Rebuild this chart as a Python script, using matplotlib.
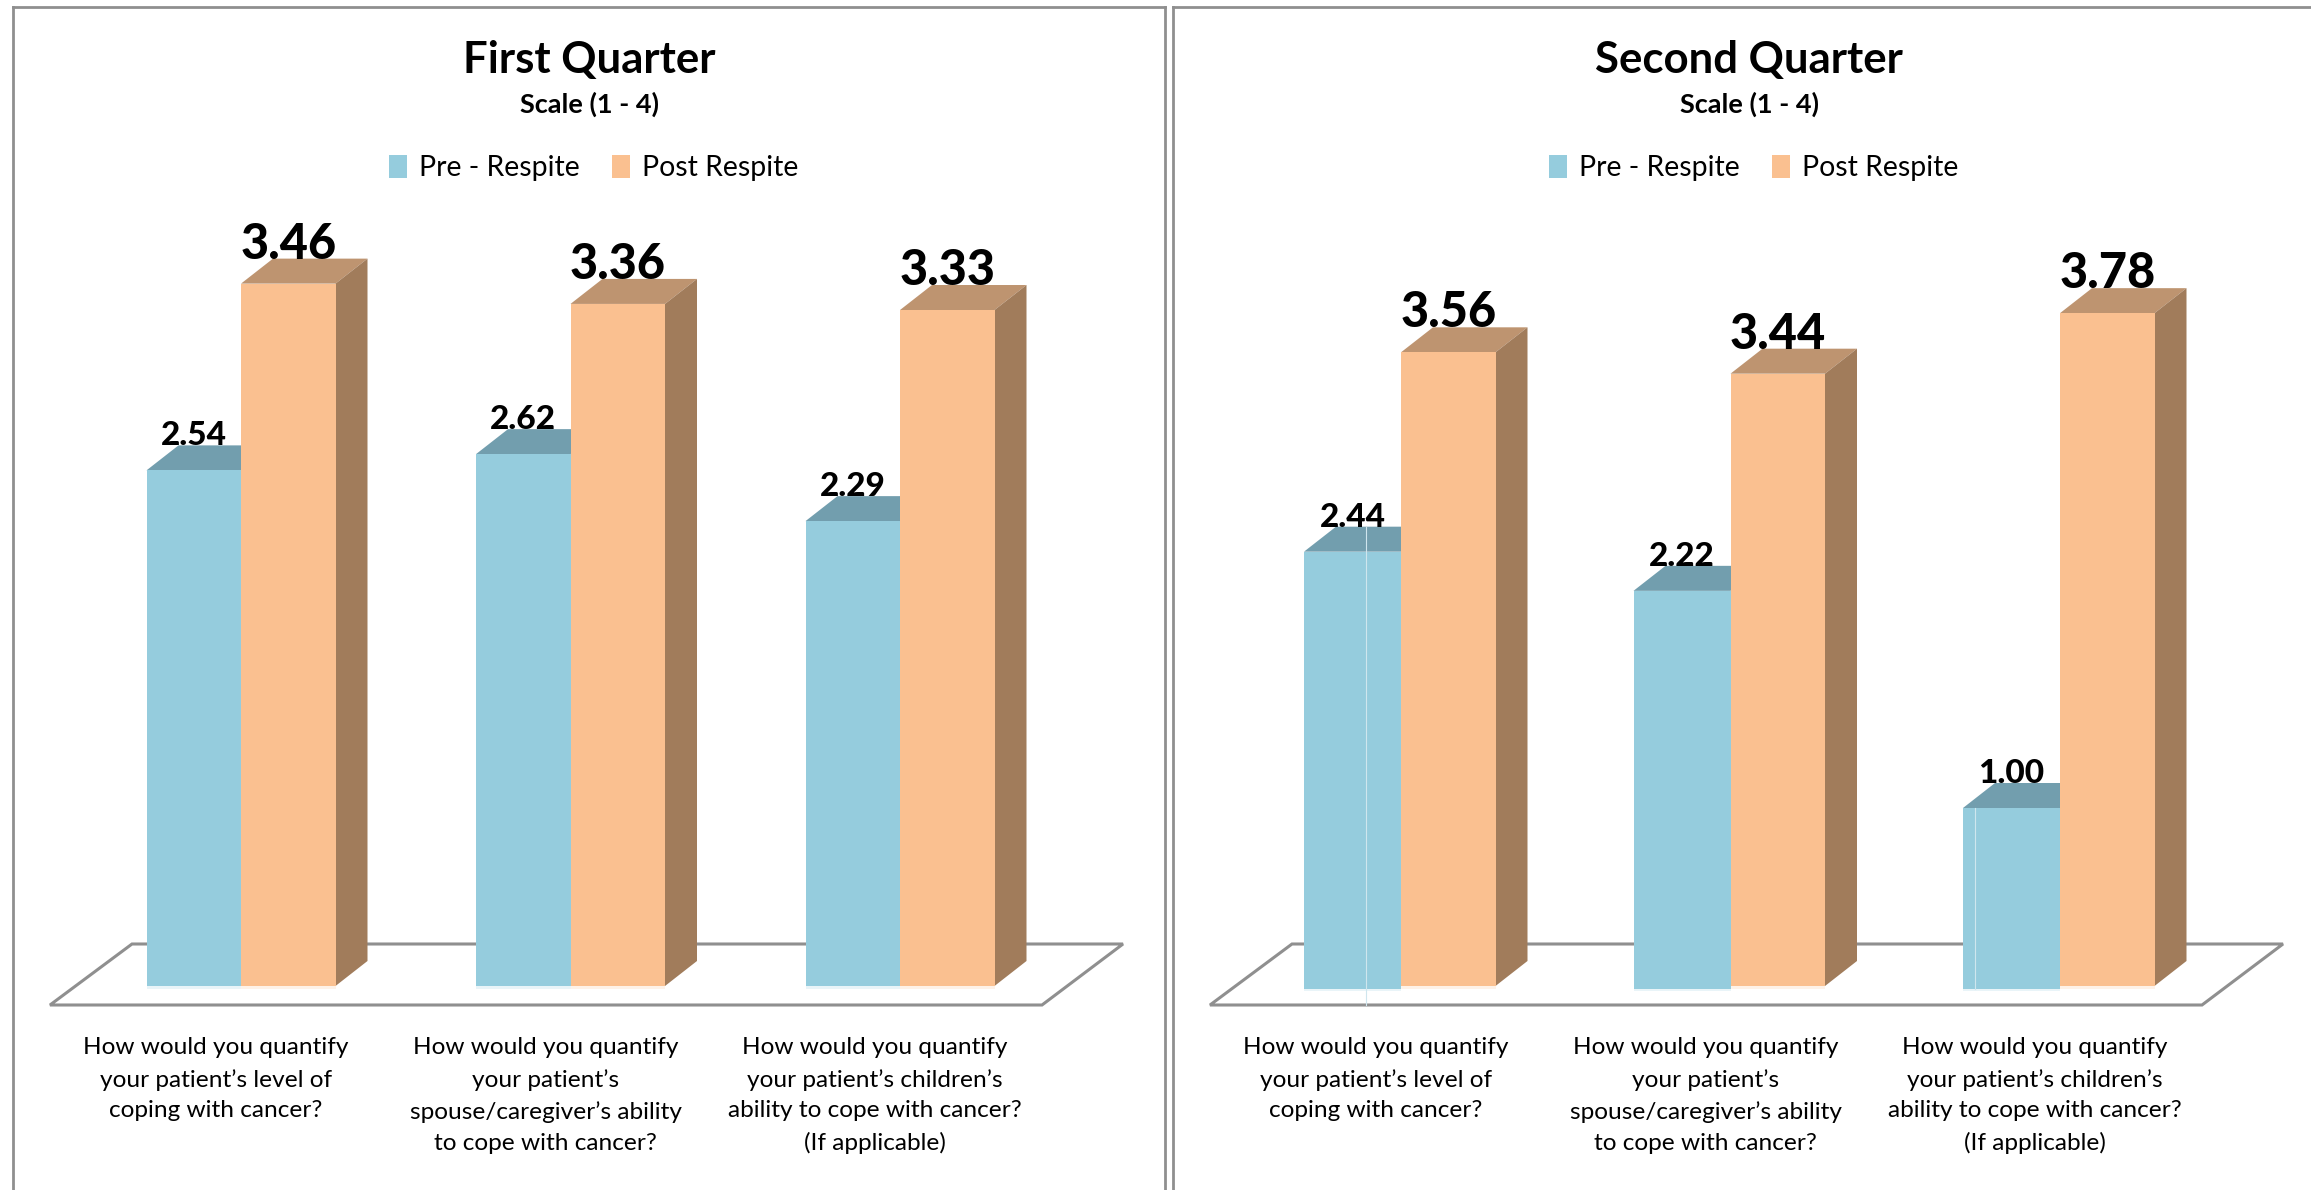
import matplotlib
matplotlib.use("Agg")
import matplotlib.pyplot as plt
from matplotlib.lines import Line2D
from matplotlib.patches import Patch, Polygon

W, H = 2311, 1190
plt.rcParams["font.family"] = ["Lato", "DejaVu Sans"]

series_names = ["Pre - Respite", "Post Respite"]
questions = [
    "How would you quantify\nyour patient\u2019s level of\ncoping with cancer?",
    "How would you quantify\nyour patient\u2019s\nspouse/caregiver\u2019s ability\nto cope with cancer?",
    "How would you quantify\nyour patient\u2019s children\u2019s\nability to cope with cancer?\n(If applicable)",
]
titles = ["First Quarter", "Second Quarter"]
subtitle = "Scale (1 - 4)"
pre_q1 = [2.54, 2.62, 2.29]
post_q1 = [3.46, 3.36, 3.33]
pre_q2 = [2.44, 2.22, 1.00]
post_q2 = [3.56, 3.44, 3.78]

BLUE, BLUE_TOP = "#95ccdd", "#729eae"
ORANGE, ORANGE_TOP, ORANGE_SIDE = "#fac090", "#be9470", "#a17c5b"
GREY = "#8f8f8f"

BASE = 986       # pixel row of value 0
SPACING = 329.5  # pixels between groups
BAR = 94.5
DX, DY = 32, 25  # depth of the 3d look, pixels


def fx(x):
    return x / W


def fy(y):
    return 1 - y / H


fig = plt.figure(figsize=(W / 100, H / 100), dpi=100, facecolor="white")


def draw_panel(left, right, x0, px_per_unit, pre, post, title, pre_w, pre_drop, seams):
    ymax = 4
    ax = fig.add_axes([fx(left), fy(BASE), (right - left) / W, ymax * px_per_unit / H])
    ax.set_xlim((left - x0) / SPACING, (right - x0) / SPACING)
    ax.set_ylim(0, ymax)
    ax.patch.set_alpha(0)
    for s in ax.spines.values():
        s.set_visible(False)
    ax.set_yticks([])

    # floor
    off = x0 - 241
    floor = [(50 + off, 1005), (132 + off, 944), (1123 + off, 944), (1042 + off, 1005)]
    ax.add_patch(Polygon([(fx(a), fy(b)) for a, b in floor], closed=True, fill=False,
                         edgecolor=GREY, lw=2.2, transform=fig.transFigure,
                         clip_on=False, zorder=1))

    w = BAR / SPACING
    dx, dy = DX / SPACING, DY / px_per_unit
    drop = pre_drop / px_per_unit
    halo = 2.5 / px_per_unit
    for i in range(len(pre)):
        pw = pre_w / SPACING
        # blue bar
        ax.bar(i - pw / 2, pre[i] + drop, pw, bottom=-drop, color=BLUE, zorder=3, clip_on=False)
        ax.bar(i - pw / 2, halo, pw, bottom=-drop - halo, color=BLUE, alpha=0.2, zorder=2, clip_on=False)
        ax.add_patch(Polygon([(i - pw, pre[i]), (i, pre[i]), (i + dx, pre[i] + dy), (i - pw + dx, pre[i] + dy)],
                             color=BLUE_TOP, lw=0, zorder=2.5))
        # orange bar
        ax.bar(i + w / 2, post[i], w, color=ORANGE, zorder=5, clip_on=False)
        ax.bar(i + w / 2, halo, w, bottom=-halo, color=ORANGE, alpha=0.2, zorder=2, clip_on=False)
        ax.add_patch(Polygon([(i, post[i]), (i + w, post[i]), (i + w + dx, post[i] + dy), (i + dx, post[i] + dy)],
                             color=ORANGE_TOP, lw=0, zorder=4.5))
        ax.add_patch(Polygon([(i + w, 0), (i + w + dx, dy), (i + w + dx, post[i] + dy), (i + w, post[i])],
                             color=ORANGE_SIDE, lw=0, zorder=4.5))
        # value labels
        ax.text(i - pw / 2, pre[i] + dy, f"{pre[i]:.2f}", ha="center", va="baseline",
                fontsize=24, fontweight="black", color="black", zorder=8)
        ax.text(i + w / 2, post[i] + dy, f"{post[i]:.2f}", ha="center", va="baseline",
                fontsize=35, fontweight="black", color="black", zorder=8)

    # thin light seams inside some blue bars
    for i, pos, bottom, top in seams:
        ax.plot([i - pos / SPACING] * 2, [bottom / px_per_unit, top], color="#cfe6ee", lw=0.8,
                zorder=3.5, clip_on=False)

    shift = 25 / SPACING
    ax.set_xticks([i - shift for i in range(len(questions))])
    ax.set_xticklabels(questions, fontsize=17.6, linespacing=1.58, color="black")
    ax.tick_params(axis="x", length=0, pad=37)

    cx = x0 + 348
    fig.text(fx(cx), fy(60), title, ha="center", va="center", fontsize=31.5, fontweight="bold")
    fig.text(fx(cx), fy(104), subtitle, ha="center", va="center", fontsize=19.5, fontweight="bold")

    handles = [Patch(facecolor=BLUE, label=series_names[0]), Patch(facecolor=ORANGE, label=series_names[1])]
    ax.legend(handles=handles, ncol=2, loc="center", bbox_to_anchor=(fx(x0 + 353), fy(168)),
              bbox_transform=fig.transFigure, frameon=False, fontsize=20.4,
              handlelength=0.63, handleheight=0.9, handletextpad=0.42, columnspacing=1.15)
    return ax


draw_panel(13, 1165, 241, 203, pre_q1, post_q1, titles[0], BAR, 0, [])
draw_panel(1173, W, 1401, 178, pre_q2, post_q2, titles[1], 97, 2.5,
           [(0, 35, -19, pre_q2[0] + 25 / 178), (2, 85, -2.5, pre_q2[2])])

# panel frames, they run off the bottom of the picture
for xs, ys in [([13, 13], [H, 7]), ([13, 1165], [7, 7]), ([1165, 1165], [7, H]),
               ([1173, 1173], [H, 7]), ([1173, W], [7, 7])]:
    fig.add_artist(Line2D([fx(a) for a in xs], [fy(b) for b in ys], color=GREY, lw=2))

fig.savefig("out.png", dpi=100)
